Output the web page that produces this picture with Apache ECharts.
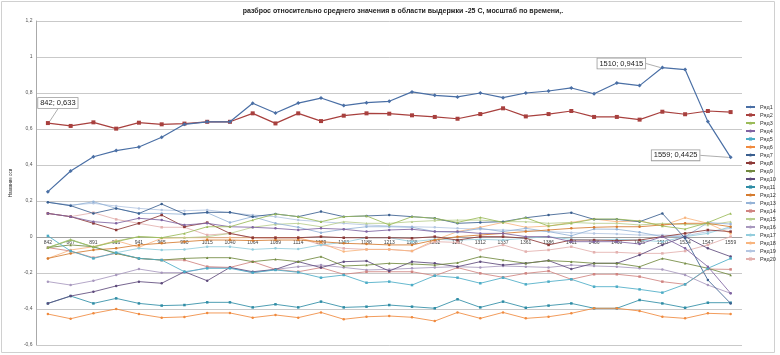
<!DOCTYPE html>
<html><head><meta charset="utf-8">
<script src="https://cdn.jsdelivr.net/npm/echarts@6/dist/echarts.min.js"></script>
<style>html,body{margin:0;padding:0;background:#fff}#c{width:780px;height:355px}</style>
</head><body><div id="c"></div>
<script>
const categories = ['842','867','891','916','941','965','990','1015','1040','1064','1089','1114','1139','1163','1188','1213','1238','1262','1287','1312','1337','1361','1386','1411','1436','1460','1485','1510','1534','1547','1559'];
const s1 = [0.252,0.367,0.446,0.48,0.5,0.554,0.626,0.64,0.64,0.743,0.689,0.744,0.772,0.73,0.746,0.754,0.806,0.787,0.778,0.8,0.774,0.8,0.811,0.828,0.796,0.856,0.841,0.9415,0.93,0.641,0.4425];
const s2 = [0.633,0.617,0.637,0.602,0.635,0.626,0.63,0.64,0.64,0.687,0.631,0.687,0.644,0.674,0.687,0.685,0.676,0.667,0.657,0.683,0.715,0.67,0.683,0.7,0.667,0.667,0.652,0.696,0.682,0.7,0.694];
const s3 = [-0.059,-0.017,-0.054,-0.026,0.002,-0.004,0.02,0.057,0.057,0.094,0.128,0.113,0.085,0.113,0.117,0.067,0.113,0.104,0.081,0.109,0.081,0.107,0.061,0.076,0.1,0.1,0.089,0.061,0.044,0.08,0.131];
const s4 = [0.131,0.113,0.085,0.076,0.104,0.094,0.067,0.076,0.057,0.054,0.048,0.039,0.048,0.043,0.03,0.039,0.043,0.03,0.03,0.02,0.02,0.002,0.002,-0.026,-0.026,-0.026,-0.039,0.002,-0.063,-0.165,-0.313];
const s5 = [0.006,-0.078,-0.119,-0.087,-0.119,-0.128,-0.193,-0.174,-0.174,-0.198,-0.183,-0.196,-0.226,-0.211,-0.254,-0.248,-0.267,-0.215,-0.226,-0.257,-0.226,-0.263,-0.248,-0.235,-0.276,-0.276,-0.291,-0.309,-0.263,-0.174,-0.119];
const s6 = [-0.428,-0.454,-0.424,-0.4,-0.428,-0.448,-0.444,-0.422,-0.422,-0.448,-0.433,-0.448,-0.419,-0.457,-0.443,-0.439,-0.446,-0.467,-0.419,-0.452,-0.419,-0.452,-0.443,-0.424,-0.396,-0.396,-0.411,-0.443,-0.452,-0.424,-0.428];
const s7 = [0.193,0.174,0.131,0.159,0.131,0.183,0.128,0.137,0.137,0.113,0.128,0.113,0.141,0.113,0.117,0.122,0.113,0.104,0.076,0.081,0.085,0.107,0.122,0.135,0.098,0.098,0.085,0.131,-0.007,-0.239,-0.369];
const s8 = [0.131,0.113,0.076,0.039,0.076,0.122,0.057,0.08,0.02,-0.004,-0.004,-0.004,0.002,-0.004,-0.004,-0.004,-0.007,0.002,-0.017,0.002,0.002,-0.007,-0.044,-0.017,-0.017,-0.02,-0.017,0.002,0.02,0.039,0.03];
const s9 = [-0.059,-0.044,-0.054,-0.091,-0.119,-0.128,-0.119,-0.115,-0.115,-0.137,-0.124,-0.137,-0.109,-0.161,-0.156,-0.146,-0.15,-0.156,-0.143,-0.109,-0.128,-0.146,-0.131,-0.137,-0.146,-0.146,-0.165,-0.119,-0.146,-0.174,-0.211];
const s10 = [-0.369,-0.328,-0.304,-0.272,-0.248,-0.257,-0.193,-0.243,-0.169,-0.193,-0.18,-0.137,-0.17,-0.137,-0.133,-0.189,-0.137,-0.146,-0.165,-0.137,-0.156,-0.146,-0.131,-0.178,-0.146,-0.146,-0.1,-0.044,0.002,-0.063,-0.109];
const s11 = [-0.369,-0.328,-0.369,-0.341,-0.369,-0.381,-0.378,-0.363,-0.363,-0.391,-0.374,-0.391,-0.359,-0.391,-0.387,-0.378,-0.387,-0.396,-0.346,-0.391,-0.359,-0.393,-0.381,-0.369,-0.396,-0.396,-0.35,-0.369,-0.393,-0.365,-0.365];
const s12 = [-0.119,-0.091,-0.072,-0.063,-0.044,-0.035,-0.026,-0.017,-0.017,-0.02,-0.017,-0.017,-0.026,-0.035,-0.039,-0.044,-0.044,-0.017,0.002,0.011,0.02,0.03,0.039,0.048,0.054,0.057,0.057,0.067,0.076,0.076,0.057];
const s13 = [0.193,0.174,0.196,0.159,0.131,0.131,0.126,0.135,0.08,0.113,0.076,0.054,0.024,0.043,0.057,0.057,0.054,0.03,0.026,0.048,0.03,0.048,0.03,0.007,0.044,0.043,0.026,0.002,0.002,0.08,0.072];
const s14 = [-0.059,-0.078,-0.115,-0.091,-0.119,-0.128,-0.128,-0.165,-0.169,-0.137,-0.18,-0.193,-0.17,-0.207,-0.193,-0.193,-0.193,-0.215,-0.17,-0.202,-0.224,-0.202,-0.189,-0.235,-0.207,-0.207,-0.22,-0.248,-0.263,-0.178,-0.18];
const s15 = [-0.059,-0.013,-0.057,-0.022,0.002,-0.004,-0.004,0.002,0.02,0.054,0.07,0.076,0.057,0.085,0.076,0.076,0.085,0.091,0.094,0.094,0.085,0.085,0.076,0.081,0.076,0.076,0.067,0.076,0.07,0.067,0.085];
const s16 = [-0.248,-0.267,-0.243,-0.211,-0.178,-0.198,-0.198,-0.17,-0.17,-0.198,-0.18,-0.165,-0.156,-0.169,-0.183,-0.18,-0.174,-0.169,-0.165,-0.169,-0.161,-0.165,-0.169,-0.156,-0.161,-0.165,-0.174,-0.18,-0.211,-0.267,-0.313];
const s17 = [-0.059,-0.017,-0.057,-0.087,-0.063,-0.072,-0.069,-0.054,-0.054,-0.069,-0.063,-0.067,-0.044,-0.03,-0.004,-0.004,-0.026,-0.013,-0.017,-0.013,-0.017,-0.007,0.002,-0.013,-0.017,-0.013,-0.017,-0.026,0.002,0.02,0.057];
const s18 = [-0.119,-0.072,-0.054,-0.02,-0.057,-0.007,-0.004,-0.004,-0.004,-0.004,-0.004,-0.004,-0.035,-0.081,-0.069,-0.069,-0.078,-0.017,0.03,0.054,0.081,0.054,0.061,0.081,0.1,0.085,0.089,0.063,0.107,0.076,0.02];
const s19 = [0.193,0.178,0.187,0.172,0.159,0.15,0.146,0.15,0.135,0.122,0.113,0.094,0.085,0.076,0.067,0.061,0.057,0.054,0.048,0.043,0.039,0.035,0.03,0.024,0.02,0.017,0.011,0.011,0.006,0.03,0.048];
const s20 = [0.131,0.113,0.135,0.098,0.076,0.054,0.054,0.011,0.02,-0.004,-0.004,-0.004,-0.044,-0.063,-0.069,-0.069,-0.078,-0.026,-0.03,-0.072,-0.044,-0.081,-0.072,-0.054,-0.085,-0.085,-0.091,-0.091,-0.078,-0.044,0.002];
const seriesData = [s1,s2,s3,s4,s5,s6,s7,s8,s9,s10,s11,s12,s13,s14,s15,s16,s17,s18,s19,s20];
const seriesNames = ['Ряд1','Ряд2','Ряд3','Ряд4','Ряд5','Ряд6','Ряд7','Ряд8','Ряд9','Ряд10','Ряд11','Ряд12','Ряд13','Ряд14','Ряд15','Ряд16','Ряд17','Ряд18','Ряд19','Ряд20'];
const colors = ['#4A6FA5','#A8403E','#9BBB59','#8064A2','#4BACC6','#F08A3E','#3A5F8F','#8C3836','#71893F','#5E4A7C','#2E8CA5','#D57B2F','#95B3D7','#D08481','#B8CE8E','#A898BE','#93CDDD','#F8B57F','#B4C6E2','#E3B0AE'];
const symbols = ['diamond','rect','triangle','circle','rect','circle','circle','rect','triangle','circle','rect','circle','circle','rect','triangle','circle','circle','circle','circle','rect'];

const labelPts = {1:{0:[10,-8]},0:{27:[-41,8],30:[-55,10]}};
const series = seriesData.map((d,i)=>{
  const o = {
    name: seriesNames[i], type:'line', data: d.slice(), color: colors[i],
    symbol: symbols[i], symbolSize: (i<2?4:2.5), showSymbol:true,
    lineStyle:{width: (i<2?1.2:0.85)}, itemStyle:{borderWidth:0},
    z: 20 - i
  };
  const lp = labelPts[i];
  if (lp) {
    o.data = d.map((v,k)=> lp[k] ? {value:v, label:{show:true, formatter: categories[k]+'; '+String(v).replace('.',','), fontFamily:'Liberation Sans', fontSize:7.5, color:'#222', backgroundColor:'#fff', borderColor:'#999', borderWidth:0.8, padding:[1,2]}, labelLine:{show:true, lineStyle:{color:'#999', width:0.8}}} : v);
    o.labelLayout = (p)=>{ const q = lp[p.dataIndex]; return q ? {dx:q[0], dy:q[1]} : {}; };
  }
  return o;
});

const chart = echarts.init(document.getElementById('c'), null, {renderer:'canvas'});
chart.setOption({
  animation:false,
  graphic:[{type:'rect', shape:{x:1.5, y:1.5, width:773, height:351}, style:{fill:'none', stroke:'#d0d0d0', lineWidth:1}, silent:true}],
  title:{text:'разброс относительно среднего значения в области выдержки -25 С, мосштаб по времени,.', left:398, textAlign:'center', top:3, textStyle:{fontFamily:'Liberation Sans', fontSize:7, fontWeight:'bold', color:'#222'}},
  legend:{orient:'vertical', left:740, top:99, itemWidth:9, itemHeight:4, itemGap:2, textStyle:{fontFamily:'Liberation Sans', fontSize:5.5, color:'#333'}, data: seriesNames},
  grid:{left:25, right:38, top:21, bottom:10},
  xAxis:{type:'category', data:categories, boundaryGap:true, offset:-108, axisLine:{onZero:false, lineStyle:{color:'#999', width:0.8}}, axisTick:{show:false}, axisLabel:{fontFamily:'Liberation Sans', fontSize:5, color:'#444', margin:3, interval:0}},
  yAxis:{type:'value', min:-0.6, max:1.2, interval:0.2, name:'Название оси', nameLocation:'middle', nameGap:15, nameTextStyle:{fontFamily:'Liberation Sans', fontSize:4.5, color:'#333'}, axisLine:{show:true, lineStyle:{color:'#aaa'}}, axisTick:{show:false}, splitLine:{lineStyle:{color:'#bbb', width:0.8}}, axisLabel:{fontFamily:'Liberation Sans', fontSize:5, color:'#555', margin:4, formatter:(v)=>String(Math.round(v*10)/10).replace('.',',')}},
  series: series
});
</script></body></html>
